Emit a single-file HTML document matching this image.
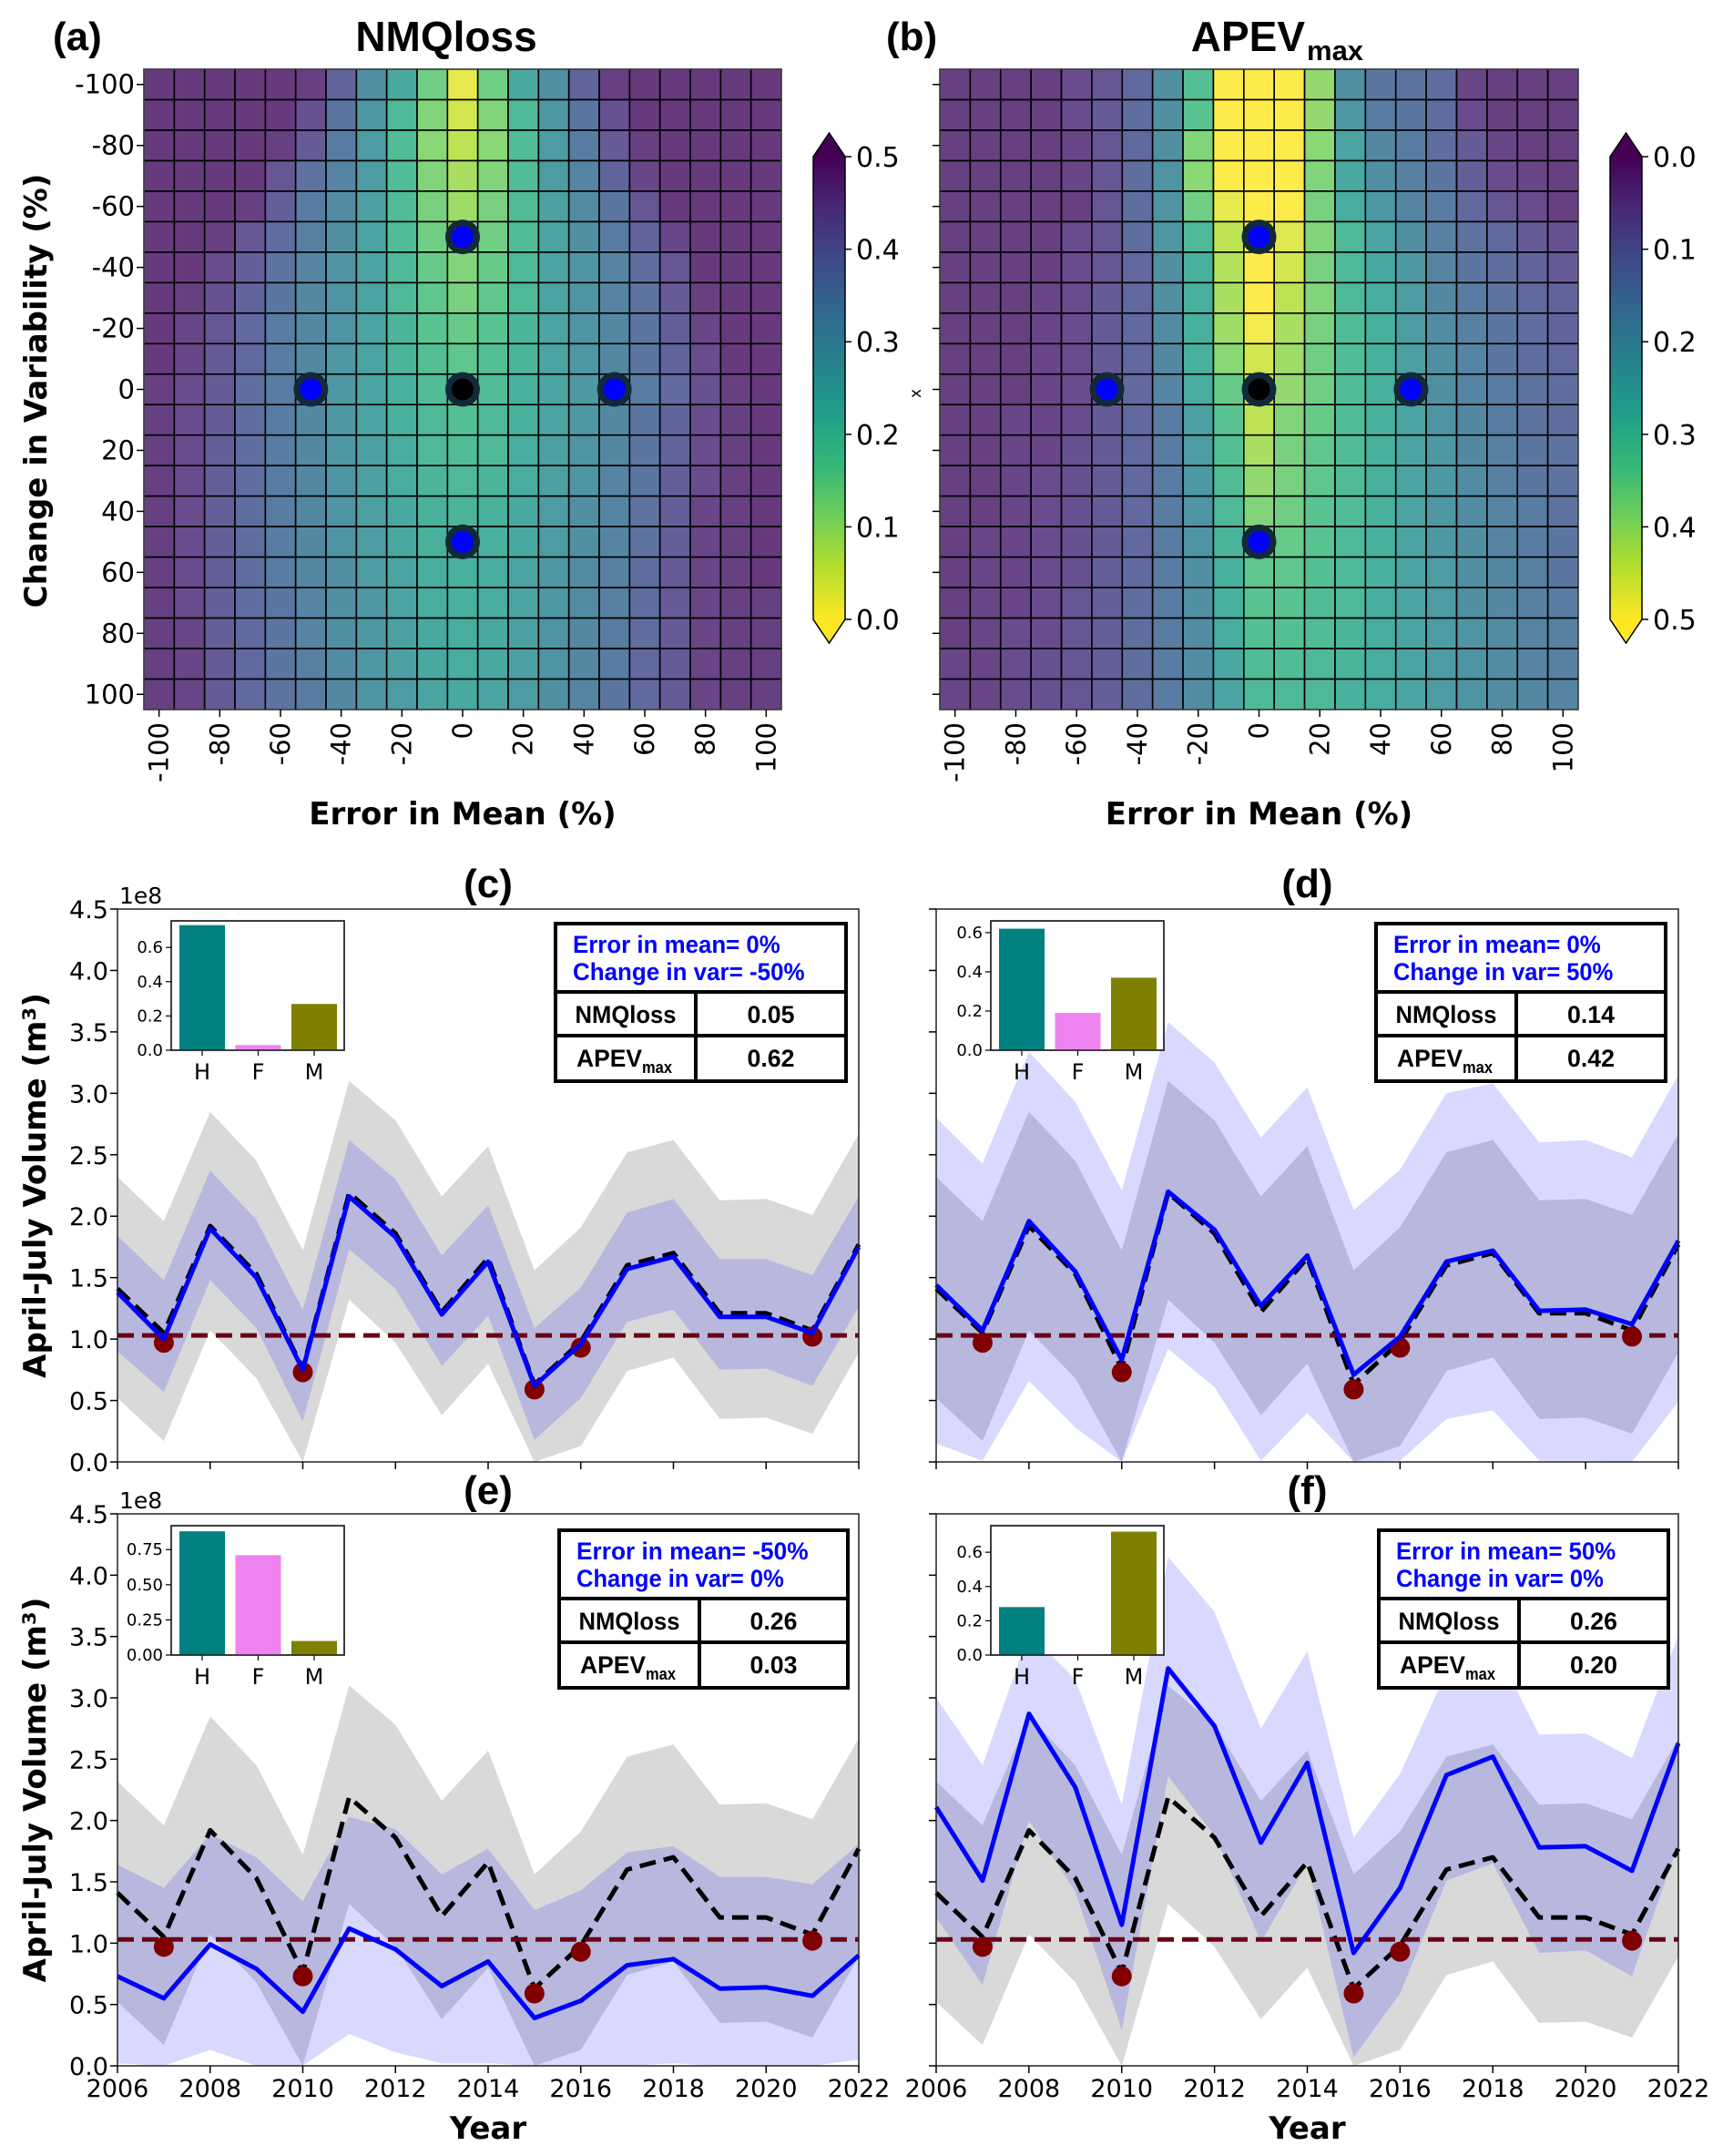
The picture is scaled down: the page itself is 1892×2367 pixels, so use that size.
<!DOCTYPE html>
<html><head><meta charset="utf-8"><title>NMQloss / APEVmax figure</title>
<style>
html,body{margin:0;padding:0;background:#fff;}
svg{display:block;}
text{font-family:"DejaVu Sans","Liberation Sans",sans-serif;fill:#000;}
.lib{font-family:"Liberation Sans",sans-serif;font-weight:bold;}
.bold{font-family:"DejaVu Sans","Liberation Sans",sans-serif;font-weight:bold;}
</style></head>
<body>
<svg id="fig" xmlns="http://www.w3.org/2000/svg" width="1892" height="2367" viewBox="0 0 1892 2367">
<defs>
<linearGradient id="vir" x1="0" y1="1" x2="0" y2="0">
<stop offset="0" stop-color="#fde725"/><stop offset="0.111" stop-color="#b5de2b"/><stop offset="0.222" stop-color="#6ece58"/><stop offset="0.333" stop-color="#35b779"/><stop offset="0.444" stop-color="#1f9e89"/><stop offset="0.556" stop-color="#26828e"/><stop offset="0.667" stop-color="#31688e"/><stop offset="0.778" stop-color="#3e4989"/><stop offset="0.889" stop-color="#482878"/><stop offset="1" stop-color="#440154"/>
</linearGradient>
</defs>
</svg>
<script>
// ---------------- data: heatmaps ----------------
const HM_X_TICKS = [-100,-80,-60,-40,-20,0,20,40,60,80,100];
const HM_Y_TICKS = [-100,-80,-60,-40,-20,0,20,40,60,80,100];
const HM_COLS = [-100,-90,-80,-70,-60,-50,-40,-30,-20,-10,0,10,20,30,40,50,60,70,80,90,100];
const HM_ROWS = [-100,-90,-80,-70,-60,-50,-40,-30,-20,-10,0,10,20,30,40,50,60,70,80,90,100];
const NMQ = [
[.48,.48,.48,.48,.48,.47,.40,.30,.24,.14,.02,.14,.24,.30,.40,.47,.48,.48,.48,.48,.48],
[.48,.48,.48,.48,.48,.44,.36,.28,.20,.12,.04,.12,.20,.28,.36,.44,.48,.48,.48,.48,.48],
[.48,.48,.48,.48,.47,.42,.35,.27,.19,.11,.06,.11,.19,.27,.35,.42,.47,.48,.48,.48,.48],
[.48,.48,.48,.48,.43,.37,.33,.27,.19,.12,.08,.12,.19,.27,.33,.40,.46,.48,.48,.48,.48],
[.48,.48,.48,.47,.41,.35,.31,.26,.19,.13,.09,.13,.19,.26,.31,.36,.43,.48,.48,.48,.48],
[.48,.48,.47,.43,.38,.34,.30,.25,.19,.14,.11,.14,.19,.25,.30,.35,.40,.46,.48,.48,.48],
[.48,.48,.45,.41,.37,.33,.29,.25,.20,.15,.12,.15,.20,.25,.29,.33,.38,.43,.48,.48,.48],
[.48,.47,.44,.40,.36,.32,.29,.25,.20,.16,.13,.16,.20,.25,.29,.33,.37,.42,.47,.48,.48],
[.48,.46,.43,.39,.35,.32,.29,.25,.21,.17,.15,.17,.21,.25,.29,.32,.36,.41,.46,.48,.48],
[.48,.46,.42,.39,.35,.32,.28,.25,.21,.18,.16,.18,.21,.25,.28,.32,.36,.40,.45,.48,.48],
[.47,.45,.42,.38,.35,.32,.28,.25,.22,.19,.17,.19,.22,.25,.28,.32,.35,.39,.44,.47,.48],
[.47,.45,.42,.38,.35,.32,.28,.25,.22,.20,.18,.20,.22,.25,.28,.32,.36,.40,.45,.47,.48],
[.47,.45,.41,.38,.35,.32,.28,.26,.23,.20,.19,.20,.23,.26,.29,.32,.36,.40,.45,.47,.48],
[.47,.45,.41,.38,.35,.32,.29,.26,.23,.21,.20,.21,.23,.26,.29,.33,.36,.41,.45,.47,.48],
[.47,.45,.41,.38,.35,.32,.29,.26,.24,.22,.21,.22,.24,.27,.30,.33,.37,.41,.46,.47,.48],
[.47,.45,.41,.38,.35,.32,.29,.27,.24,.22,.21,.22,.24,.27,.30,.33,.37,.41,.46,.47,.48],
[.47,.45,.41,.38,.35,.32,.30,.27,.25,.23,.22,.23,.25,.28,.31,.34,.38,.42,.46,.47,.48],
[.47,.45,.41,.38,.36,.33,.30,.28,.25,.23,.22,.23,.25,.28,.31,.34,.38,.42,.46,.47,.47],
[.47,.46,.41,.39,.36,.33,.30,.28,.26,.24,.23,.24,.26,.29,.32,.35,.38,.42,.46,.47,.47],
[.47,.46,.42,.39,.36,.34,.31,.28,.26,.24,.23,.24,.26,.29,.32,.35,.39,.42,.46,.47,.47],
[.47,.46,.42,.39,.37,.35,.32,.29,.27,.25,.24,.25,.27,.30,.33,.36,.39,.42,.46,.47,.47]];
const APEV = [
[.03,.03,.03,.03,.05,.07,.11,.20,.32,.50,.50,.50,.40,.20,.14,.13,.12,.04,.03,.03,.03],
[.03,.03,.03,.03,.05,.08,.12,.20,.33,.50,.50,.50,.40,.22,.15,.14,.12,.05,.03,.03,.03],
[.03,.03,.03,.03,.04,.07,.11,.20,.38,.50,.50,.50,.39,.25,.18,.15,.12,.08,.04,.03,.03],
[.03,.03,.03,.03,.04,.07,.12,.21,.39,.50,.50,.50,.38,.26,.20,.16,.14,.09,.05,.04,.03],
[.03,.03,.03,.03,.03,.07,.12,.21,.36,.48,.50,.50,.37,.27,.22,.17,.15,.11,.07,.05,.03],
[.03,.03,.03,.03,.05,.07,.12,.22,.30,.44,.50,.47,.38,.30,.25,.20,.16,.13,.11,.08,.06],
[.03,.03,.03,.03,.05,.07,.11,.20,.28,.43,.50,.46,.37,.30,.26,.22,.17,.14,.12,.10,.08],
[.03,.03,.03,.04,.05,.08,.11,.20,.28,.42,.50,.44,.38,.30,.27,.23,.18,.15,.13,.11,.10],
[.03,.03,.03,.04,.05,.08,.11,.19,.28,.41,.49,.42,.37,.31,.28,.23,.19,.16,.14,.12,.10],
[.03,.03,.03,.04,.05,.08,.11,.18,.28,.39,.46,.41,.36,.31,.28,.24,.20,.17,.14,.12,.11],
[.03,.03,.03,.04,.05,.08,.11,.17,.27,.35,.45,.40,.36,.31,.28,.25,.20,.17,.15,.13,.12],
[.03,.03,.04,.04,.05,.08,.11,.15,.24,.33,.44,.38,.35,.31,.28,.25,.21,.18,.15,.13,.12],
[.03,.03,.04,.04,.06,.08,.11,.15,.23,.32,.42,.37,.34,.31,.28,.25,.22,.18,.16,.14,.13],
[.03,.03,.04,.05,.06,.08,.11,.15,.22,.31,.40,.37,.34,.31,.28,.25,.22,.19,.16,.14,.13],
[.03,.03,.04,.05,.06,.08,.11,.15,.21,.30,.38,.36,.33,.31,.28,.25,.22,.19,.17,.15,.13],
[.03,.04,.04,.05,.06,.08,.11,.15,.21,.29,.36,.35,.33,.30,.28,.25,.22,.20,.17,.15,.14],
[.03,.04,.04,.05,.06,.09,.11,.15,.20,.28,.34,.34,.32,.30,.28,.25,.23,.20,.18,.16,.14],
[.03,.04,.04,.05,.07,.09,.12,.15,.20,.28,.33,.33,.31,.30,.27,.25,.23,.20,.18,.16,.15],
[.03,.04,.05,.05,.07,.09,.12,.15,.19,.27,.32,.32,.31,.29,.27,.25,.23,.21,.19,.17,.16],
[.04,.04,.05,.06,.07,.09,.12,.15,.19,.26,.31,.31,.30,.29,.27,.25,.23,.21,.19,.17,.16],
[.04,.04,.05,.06,.07,.09,.12,.15,.19,.25,.30,.30,.30,.28,.27,.25,.23,.21,.19,.18,.17]];
const MARK_MEAN = [0,-50,0,50,0];
const MARK_VAR  = [-50,0,0,0,50];
const MARK_KIND = ['blue','blue','ref','blue','blue'];
const CB_TICKS_A = ['0.5','0.4','0.3','0.2','0.1','0.0'];
const CB_TICKS_B = ['0.0','0.1','0.2','0.3','0.4','0.5'];

// ---------------- data: time series ----------------
const YEARS = [2006,2007,2008,2009,2010,2011,2012,2013,2014,2015,2016,2017,2018,2019,2020,2021,2022];
const YEAR_TICKS = [2006,2008,2010,2012,2014,2016,2018,2020,2022];
const VOL_TICKS = [0,0.5,1.0,1.5,2.0,2.5,3.0,3.5,4.0,4.5];
const OBS = [1.41,1.05,1.92,1.53,0.76,2.19,1.86,1.22,1.66,0.63,0.98,1.60,1.70,1.21,1.21,1.07,1.77];
const GREY_UP = [2.32,1.96,2.85,2.45,1.72,3.10,2.78,2.16,2.57,1.56,1.91,2.52,2.62,2.13,2.14,2.01,2.67];
const GREY_LO = [0.52,0.17,1.07,0.68,0.00,1.32,0.97,0.38,0.80,0.00,0.13,0.74,0.85,0.35,0.36,0.23,0.89];
const THRESH = 1.03;
const DOT_YEARS = [2007,2010,2015,2016,2021];
const DOT_VALS = [0.97,0.73,0.59,0.93,1.02];
const C_LINE = [1.38,1.00,1.90,1.50,0.75,2.16,1.83,1.20,1.63,0.62,0.96,1.57,1.67,1.18,1.18,1.05,1.75];
const C_UP = [1.84,1.48,2.37,1.97,1.24,2.62,2.30,1.68,2.09,1.09,1.42,2.03,2.14,1.65,1.65,1.52,2.16];
const C_LO = [0.90,0.57,1.48,1.09,0.33,1.73,1.41,0.78,1.19,0.18,0.52,1.14,1.24,0.75,0.76,0.62,1.26];
const D_LINE = [1.44,1.07,1.96,1.55,0.83,2.20,1.89,1.27,1.68,0.71,1.02,1.63,1.72,1.23,1.24,1.12,1.80];
const D_UP = [2.80,2.43,3.34,2.93,2.21,3.58,3.25,2.64,3.05,2.05,2.38,3.00,3.08,2.60,2.62,2.48,3.15];
const D_LO = [0.15,0.01,0.66,0.28,0.00,0.92,0.61,0.01,0.40,0.00,0.01,0.35,0.42,0.01,0.01,0.00,0.49];
const E_LINE = [0.73,0.55,0.99,0.79,0.44,1.12,0.95,0.65,0.85,0.39,0.53,0.82,0.87,0.63,0.64,0.57,0.90];
const E_UP = [1.64,1.45,1.89,1.70,1.34,2.03,1.93,1.56,1.77,1.27,1.43,1.74,1.79,1.54,1.54,1.48,1.81];
const E_LO = [0.02,0.00,0.13,0.00,0.00,0.26,0.11,0.02,0.02,0.00,0.00,0.00,0.02,0.00,0.00,0.00,0.05];
const F_LINE = [2.11,1.51,2.87,2.27,1.15,3.24,2.77,1.82,2.47,0.92,1.45,2.37,2.52,1.78,1.79,1.59,2.63];
const F_UP = [3.00,2.45,3.53,3.15,2.13,4.15,3.70,2.75,3.38,1.86,2.38,3.21,3.44,2.70,2.71,2.51,3.51];
const F_LO = [1.21,0.66,2.00,1.42,0.29,2.36,1.88,1.01,1.65,0.07,0.59,1.51,1.65,0.92,0.94,0.73,1.81];
const INSET_CATS = ['H','F','M'];
const C_BARS = [0.73,0.03,0.27];
const D_BARS = [0.62,0.19,0.37];
const E_BARS = [0.88,0.71,0.10];
const F_BARS = [0.28,0.005,0.72];
const C_TEXT = ['Error in mean= 0%','Change in var= -50%','0.05','0.62'];
const D_TEXT = ['Error in mean= 0%','Change in var= 50%','0.14','0.42'];
const E_TEXT = ['Error in mean= -50%','Change in var= 0%','0.26','0.03'];
const F_TEXT = ['Error in mean= 50%','Change in var= 0%','0.26','0.20'];

// ---------------- helpers ----------------
const NS='http://www.w3.org/2000/svg';
const svg=document.getElementById('fig');
function mk(tag,attrs,parent){const e=document.createElementNS(NS,tag);for(const k in attrs)e.setAttribute(k,attrs[k]);(parent||svg).appendChild(e);return e;}
function T(x,y,s,fs,extra,parent){const a=Object.assign({x:x,y:y,'font-size':fs},extra||{});const e=mk('text',a,parent);e.textContent=s;return e;}
const VIR=['#440154','#482878','#3e4989','#31688e','#26828e','#1f9e89','#35b779','#6ece58','#b5de2b','#fde725'];
function hex(h){return [parseInt(h.substr(1,2),16),parseInt(h.substr(3,2),16),parseInt(h.substr(5,2),16)];}
function viridis(t){t=Math.max(0,Math.min(1,t));const p=t*9,i=Math.min(8,Math.floor(p)),f=p-i;const a=hex(VIR[i]),b=hex(VIR[i+1]);return 'rgb('+a.map((v,k)=>Math.round(v+(b[k]-v)*f)).join(',')+')';}

// ---------------- heatmap ----------------
function heatmap(gName,L,R,Tp,B,data,colorOf,cbx,cbLabels,showYLabels,letter,letterX){
  const g=mk('g',{});
  
  
  const n=HM_COLS.length,m=HM_ROWS.length,cw=(R-L)/n,rh=(B-Tp)/m;
  const xs=v=>L+(HM_COLS.indexOf(v)+0.5)*cw;
  const ys=v=>Tp+(HM_ROWS.indexOf(v)+0.5)*rh;
  for(let r=0;r<m;r++)for(let c=0;c<n;c++){
    const cell=mk('rect',{x:L+c*cw,y:Tp+r*rh,width:cw,height:rh,fill:colorOf(data[r][c]),'fill-opacity':0.82,stroke:'#000','stroke-width':1.6},g);
    
    
  }
  const fr=mk('rect',{x:L,y:Tp,width:R-L,height:B-Tp,fill:'none',stroke:'#555','stroke-width':1.2},g);
  
  
  HM_Y_TICKS.forEach(v=>{const y=ys(v);
    const tk=mk('line',{x1:L-8,x2:L,y1:y,y2:y,stroke:'#000','stroke-width':1.5},g);
    
    
    if(showYLabels){const t=T(L-10,y+10,String(v),29,{'text-anchor':'end'},g);
      
      }
  });
  HM_X_TICKS.forEach(v=>{const x=xs(v);
    const tk=mk('line',{x1:x,x2:x,y1:B,y2:B+8,stroke:'#000','stroke-width':1.5},g);
    
    
    const t=T(0,0,String(v),29,{'text-anchor':'end',transform:'translate('+(x+10)+','+(B+14)+') rotate(-90)'},g);
    
    
  });
  const xt=T((L+R)/2,905,'Error in Mean (%)',34,{'text-anchor':'middle','class':'bold'},g);
  
  
  MARK_MEAN.forEach((mv,i)=>{const cx=xs(mv),cy=ys(MARK_VAR[i]);
    const o=mk('circle',{cx:cx,cy:cy,r:19,fill:'#13293a'},g);
    
    
    const c=mk('circle',{cx:cx,cy:cy,r:12,fill:MARK_KIND[i]==='ref'?'#000':'#0000ff'},g);
    
    
  });
  const cT=172,cB=680,cw2=35;
  const top=mk('path',{d:`M${cbx},${cT} L${cbx+cw2/2},${cT-26} L${cbx+cw2},${cT} Z`,fill:'#440154'},g);
  
  
  const bot=mk('path',{d:`M${cbx},${cB} L${cbx+cw2/2},${cB+26} L${cbx+cw2},${cB} Z`,fill:'#fde725'},g);
  
  
  const cr=mk('rect',{x:cbx,y:cT,width:cw2,height:cB-cT,fill:'url(#vir)'},g);
  
  
  const cb=mk('path',{d:`M${cbx},${cT} L${cbx+cw2/2},${cT-26} L${cbx+cw2},${cT} L${cbx+cw2},${cB} L${cbx+cw2/2},${cB+26} L${cbx},${cB} Z`,fill:'none',stroke:'#000','stroke-width':1.5},g);
  
  
  cbLabels.forEach((s,i)=>{const y=cT+i*(cB-cT)/(cbLabels.length-1);
    const tk=mk('line',{x1:cbx+cw2,x2:cbx+cw2+7,y1:y,y2:y,stroke:'#000','stroke-width':1.5},g);
    
    
    const t=T(cbx+cw2+12,y+11,s,30,{},g);
    
    
  });
  const lt=T(letterX,55,letter,44,{'class':'lib'},g);
  
  
  return g;
}
const ha=heatmap('heatmap-nmqloss',158,858,76,779,NMQ,v=>viridis(1-v/0.5),893,CB_TICKS_A,true,'(a)',58);
const t1=T(490,56,'NMQloss',46,{'text-anchor':'middle','class':'lib'},ha);


const yt=T(0,0,'Change in Variability (%)',34,{'text-anchor':'middle','class':'bold',transform:'translate(51,429) rotate(-90)'},ha);


const hb=heatmap('heatmap-apevmax',1032,1733,76,779,APEV,v=>viridis(v/0.5),1768,CB_TICKS_B,false,'(b)',973);
const t2=T(1433,56,'APEV',46,{'text-anchor':'end','class':'lib'},hb);


const t2s=T(1435,66,'max',31,{'class':'lib'},hb);


const xl=T(1011,432,'x',17,{transform:'rotate(-90 1011 432)','text-anchor':'middle'},hb);



// ---------------- time series panels ----------------
function panel(name,L,R,Tp,B,line,up,lo,bars,barMax,barTicks,barTickLabels,insetL,tbl,tblX0,tblX1,tblXD,tblY0,letter,letterY,showYLab,showXLab){
  const g=mk('g',{});
  
  
  const xs=yr=>L+(yr-2006)/16*(R-L);
  const ys=v=>B-v/4.5*(B-Tp);
  const band=(U,Lo)=>{let d='';YEARS.forEach((yr,i)=>{d+=(i?'L':'M')+xs(yr).toFixed(1)+','+ys(U[i]).toFixed(1)+' ';});
    for(let i=YEARS.length-1;i>=0;i--)d+='L'+xs(YEARS[i]).toFixed(1)+','+ys(Lo[i]).toFixed(1)+' ';return d+'Z';};
  const pl=V=>YEARS.map((yr,i)=>xs(yr).toFixed(1)+','+ys(V[i]).toFixed(1)).join(' ');
  const gb=mk('path',{d:band(GREY_UP,GREY_LO),fill:'#d9d9d9'},g);
  
  
  const mb=mk('path',{d:band(up,lo),fill:'#0000ff','fill-opacity':0.15},g);
  
  
  const ob=mk('polyline',{points:pl(OBS),fill:'none',stroke:'#000','stroke-width':5,'stroke-dasharray':'18,9','stroke-linejoin':'round'},g);
  
  
  const th=mk('line',{x1:L,x2:R,y1:ys(THRESH),y2:ys(THRESH),stroke:'#6b0018','stroke-width':5,'stroke-dasharray':'18,9'},g);
  
  
  DOT_YEARS.forEach((yr,i)=>{const c=mk('circle',{cx:xs(yr),cy:ys(DOT_VALS[i]),r:11,fill:'#800000'},g);
    
    });
  const ml=mk('polyline',{points:pl(line),fill:'none',stroke:'#0000ff','stroke-width':5,'stroke-linejoin':'round'},g);
  
  
  const fr=mk('rect',{x:L,y:Tp,width:R-L,height:B-Tp,fill:'none',stroke:'#222','stroke-width':1.5},g);
  
  
  VOL_TICKS.forEach(v=>{const y=ys(v);
    const tk=mk('line',{x1:L-8,x2:L,y1:y,y2:y,stroke:'#000','stroke-width':1.5},g);
    
    
    if(showYLab){const t=T(L-10,y+10,v.toFixed(1),27,{'text-anchor':'end'},g);
      
      }
  });
  YEAR_TICKS.forEach(yr=>{const x=xs(yr);
    const tk=mk('line',{x1:x,x2:x,y1:B,y2:B+8,stroke:'#000','stroke-width':1.5},g);
    
    
    if(showXLab){const t=T(x,B+34,String(yr),27,{'text-anchor':'middle'},g);
      
      }
  });
  if(showYLab){
    const e8=T(L+2,Tp-6,'1e8',25,{},g);
    
    
    const yt=T(0,0,'',34,{'text-anchor':'middle','class':'bold',transform:'translate(50,'+((Tp+B)/2)+') rotate(-90)'},g);
    
    
    yt.textContent='April-July Volume (m\u00B3)';
  }
  if(showXLab){const xt=T((L+R)/2,B+80,'Year',34,{'text-anchor':'middle','class':'bold'},g);
    
    }
  const lt=T((L+R)/2,letterY,letter,44,{'text-anchor':'middle','class':'lib'},g);
  
  
  const iT=Tp+13,iB=Tp+155,iW=190;
  const ib=mk('rect',{x:insetL,y:iT,width:iW,height:iB-iT,fill:'#fff',stroke:'#222','stroke-width':1.5},g);
  
  
  const by=v=>iB-v/barMax*(iB-iT);
  const bc=['#008080','#ee82ee','#808000'];
  bars.forEach((v,i)=>{const cx=insetL+34+i*61.5;
    const r=mk('rect',{x:cx-25,y:by(v),width:50,height:iB-by(v),fill:bc[i]},g);
    
    
    const tk=mk('line',{x1:cx,x2:cx,y1:iB,y2:iB+6,stroke:'#000','stroke-width':1.2},g);
    
    
    const t=T(cx,iB+32,INSET_CATS[i],24,{'text-anchor':'middle'},g);
    
    
  });
  const ib2=mk('rect',{x:insetL,y:iT,width:iW,height:iB-iT,fill:'none',stroke:'#222','stroke-width':1.5},g);
  
  
  barTicks.forEach((v,i)=>{const y=by(v);
    const tk=mk('line',{x1:insetL-6,x2:insetL,y1:y,y2:y,stroke:'#000','stroke-width':1.2},g);
    
    
    const t=T(insetL-9,y+6,barTickLabels[i],18,{'text-anchor':'end'},g);
    
    
  });
  const y0=tblY0;
  const tb=mk('rect',{x:tblX0,y:y0,width:tblX1-tblX0,height:173,fill:'#fff',stroke:'#000','stroke-width':4},g);
  
  
  [[tblX0,y0+75,tblX1,y0+75],[tblX0,y0+123,tblX1,y0+123],[tblXD,y0+75,tblXD,y0+173]].forEach(a=>{
    const l=mk('line',{x1:a[0],y1:a[1],x2:a[2],y2:a[3],stroke:'#000','stroke-width':4},g);
    
    });
  const l1=T(tblX0+19,y0+32,tbl[0],27,{'class':'lib',style:'fill:#0000ff',textLength:13.4*tbl[0].length,lengthAdjust:'spacingAndGlyphs'},g);
  
  
  const l2=T(tblX0+19,y0+62,tbl[1],27,{'class':'lib',style:'fill:#0000ff',textLength:13.4*tbl[1].length,lengthAdjust:'spacingAndGlyphs'},g);
  
  
  const c1=(tblX0+tblXD)/2,c2=(tblXD+tblX1)/2;
  const n1=T(c1,y0+109,'NMQloss',27,{'class':'lib','text-anchor':'middle',textLength:111,lengthAdjust:'spacingAndGlyphs'},g);
  
  
  const n2=T(c2,y0+109,tbl[2],27,{'class':'lib','text-anchor':'middle',textLength:52,lengthAdjust:'spacingAndGlyphs'},g);
  
  
  const a1=T(c1-18,y0+157,'APEV',27,{'class':'lib','text-anchor':'middle',textLength:72,lengthAdjust:'spacingAndGlyphs'},g);
  
  
  const a1s=T(c1+18,y0+164,'max',18,{'class':'lib',textLength:33,lengthAdjust:'spacingAndGlyphs'},g);
  
  
  const a2=T(c2,y0+157,tbl[3],27,{'class':'lib','text-anchor':'middle',textLength:52,lengthAdjust:'spacingAndGlyphs'},g);
  
  
}
panel('panel-c',129,943,998,1605,C_LINE,C_UP,C_LO,C_BARS,0.755,[0,0.2,0.4,0.6],['0.0','0.2','0.4','0.6'],188,C_TEXT,610,929,764,1014,'(c)',985,true,false);
panel('panel-d',1028,1843,998,1605,D_LINE,D_UP,D_LO,D_BARS,0.66,[0,0.2,0.4,0.6],['0.0','0.2','0.4','0.6'],1088,D_TEXT,1511,1829,1665,1014,'(d)',985,false,false);
panel('panel-e',129,943,1662,2268,E_LINE,E_UP,E_LO,E_BARS,0.92,[0,0.25,0.5,0.75],['0.00','0.25','0.50','0.75'],188,E_TEXT,614,931,768,1680,'(e)',1651,true,true);
panel('panel-f',1028,1843,1662,2268,F_LINE,F_UP,F_LO,F_BARS,0.755,[0,0.2,0.4,0.6],['0.0','0.2','0.4','0.6'],1088,F_TEXT,1514,1832,1668,1680,'(f)',1651,false,true);
</script>
</body></html>
